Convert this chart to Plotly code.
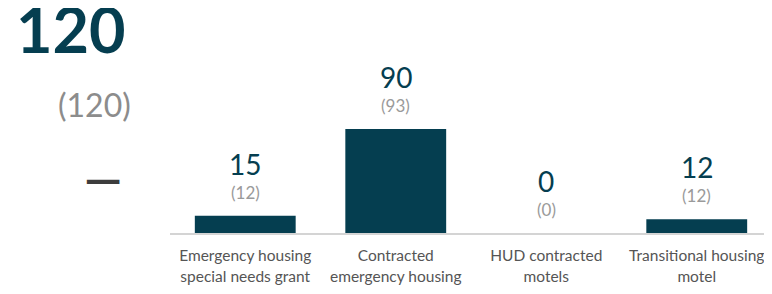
import plotly.graph_objects as go

categories = ["Emergency housing<br>special needs grant", "Contracted<br>emergency housing",
              "HUD contracted<br>motels", "Transitional housing<br>motel"]
current_values = [15, 90, 0, 12]
previous_values = [12, 93, 0, 12]
total_current = 120
total_previous = 120
change_text = "—"

BAR = "#053e50"
GREY = "#8c8c8c"

fig = go.Figure()
fig.add_trace(go.Bar(x=categories, y=current_values, marker=dict(color=BAR, line=dict(width=0)),
                     width=0.67, hoverinfo="skip"))

for c, v, p in zip(categories, current_values, previous_values):
    fig.add_annotation(x=c, y=v, text=str(v), showarrow=False, yanchor="bottom", yshift=33,
                       font=dict(family="Lato", size=28, color=BAR))
    fig.add_annotation(x=c, y=v, text=f"({p})", showarrow=False, yanchor="bottom", yshift=11,
                       font=dict(family="Lato", size=17, color="#9a9a9a"))

fig.add_annotation(xref="paper", yref="paper", x=-0.1645, y=0.915, xanchor="center", yanchor="middle",
                   text=f"<b>{total_current}</b>", showarrow=False,
                   font=dict(family="Lato", size=63, color=BAR))
fig.add_annotation(xref="paper", yref="paper", x=-0.1262, y=0.574, xanchor="center", yanchor="middle",
                   text=f"({total_previous})", showarrow=False,
                   font=dict(family="Lato", size=32, color=GREY))
fig.add_annotation(xref="paper", yref="paper", x=-0.111, y=0.247, xanchor="center", yanchor="middle",
                   text=f"<b>{change_text}</b>", showarrow=False,
                   font=dict(family="Lato", size=48, color="#3d3d3d"))

fig.update_layout(
    width=764, height=286,
    margin=dict(l=162, r=0, t=2, b=61),
    paper_bgcolor="white", plot_bgcolor="white",
    showlegend=False, bargap=0.33,
    xaxis=dict(showline=True, linecolor="#d4d4d4", linewidth=1.5, ticks="", ticklabelstandoff=8,
               tickfont=dict(family="Lato", size=15.5, color="#555555"), fixedrange=True),
    yaxis=dict(range=[0, 193], visible=False, showgrid=False, fixedrange=True),
)
fig.write_html("out.html")
